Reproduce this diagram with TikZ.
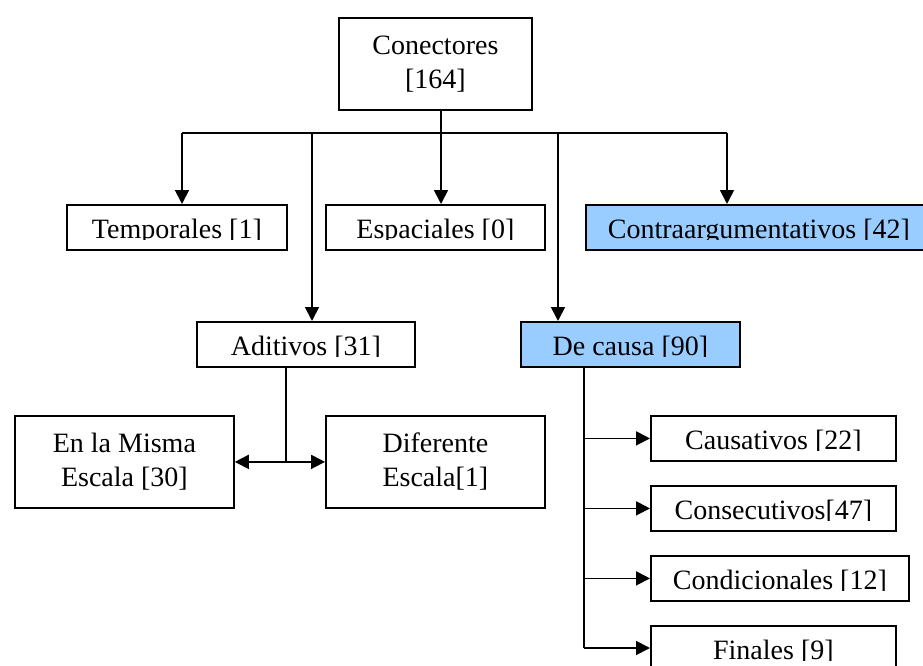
\documentclass[tikz,border=0pt]{standalone}
\usepackage{fontspec}
\setmainfont{Liberation Serif}
\usetikzlibrary{arrows.meta}
\definecolor{boxblue}{RGB}{153,204,255}
\newcommand\mainsize{\fontsize{28pt}{34pt}\selectfont}
\tikzset{
  box/.style={draw=black, line width=1.8pt, rectangle, inner sep=0pt, anchor=north west,
    minimum height=45pt, font=\mainsize},
  tallbox/.style={box, minimum height=92pt, align=center},
  cliptext/.style={path picture={
      \clip ([yshift=10pt]path picture bounding box.south west) rectangle (path picture bounding box.north east);
      \node[font=\mainsize, anchor=base, inner sep=0pt] at ([yshift=11pt]path picture bounding box.south) {#1};}},
  link/.style={line width=1.8pt},
  arr/.style={link, -{Triangle[length=14pt,width=14pt]}},
  darr/.style={link, {Triangle[length=14pt,width=14pt]}-{Triangle[length=14pt,width=14pt]}}
}
\begin{document}
\begin{tikzpicture}[x=1pt, y=-1pt]
\useasboundingbox (0,0) rectangle (923,666);
\clip (0,0) rectangle (923,666);
% boxes
\node[tallbox, minimum width=193pt] (con) at (338,17) {Conectores\\{}[164]};
\node[box, minimum width=220pt, cliptext={Temporales [1]}] (temp) at (66,204) {};
\node[box, minimum width=219pt, cliptext={Espaciales [0]}] (esp) at (325,204) {};
\node[box, fill=boxblue, minimum width=346pt, cliptext={Contraargumentativos [42]}] (contra) at (585,204) {};
\node[box, minimum width=218pt, cliptext={Aditivos [31]}] (adit) at (196,321) {};
\node[box, fill=boxblue, minimum width=219pt, cliptext={De causa [90]}] (dec) at (520,321) {};
\node[tallbox, minimum width=219pt] (misma) at (14,415) {En la Misma\\Escala [30]};
\node[tallbox, minimum width=219pt] (dif) at (325,415) {Diferente\\Escala[1]};
\node[box, minimum width=245pt, cliptext={Causativos [22]}] (caus) at (650,415) {};
\node[box, minimum width=245pt, cliptext={Consecutivos[47]}] (cons) at (650,485) {};
\node[box, minimum width=258pt, cliptext={Condicionales [12]}] (cond) at (650,555) {};
\node[box, minimum width=245pt, cliptext={Finales [9]}] (fin) at (650,625) {};
% junctions
\coordinate (j0) at (441,133);
\coordinate (jl) at (182,133);
\coordinate (jr) at (727,133);
\coordinate (ja) at (312,133);
\coordinate (jd) at (558,133);
\coordinate (jm) at (286,461);
\coordinate (jc) at (584,648);
% connectors
\draw[link] (con.south -| j0) -- (j0);
\draw[link] (jl) -- (jr);
\draw[arr] (jl) -- (jl |- temp.north);
\draw[arr] (j0) -- (j0 |- esp.north);
\draw[arr] (jr) -- (jr |- contra.north);
\draw[arr] (ja) -- (ja |- adit.north);
\draw[arr] (jd) -- (jd |- dec.north);
\draw[link] (adit.south -| jm) -- (jm);
\draw[darr] (misma.east) -- (dif.west);
\draw[link] (dec.south -| jc) -- (jc);
\draw[arr] (jc |- caus.west) -- (caus.west);
\draw[arr] (jc |- cons.west) -- (cons.west);
\draw[arr] (jc |- cond.west) -- (cond.west);
\draw[arr] (jc) -- (jc -| fin.west);
\end{tikzpicture}
\end{document}
